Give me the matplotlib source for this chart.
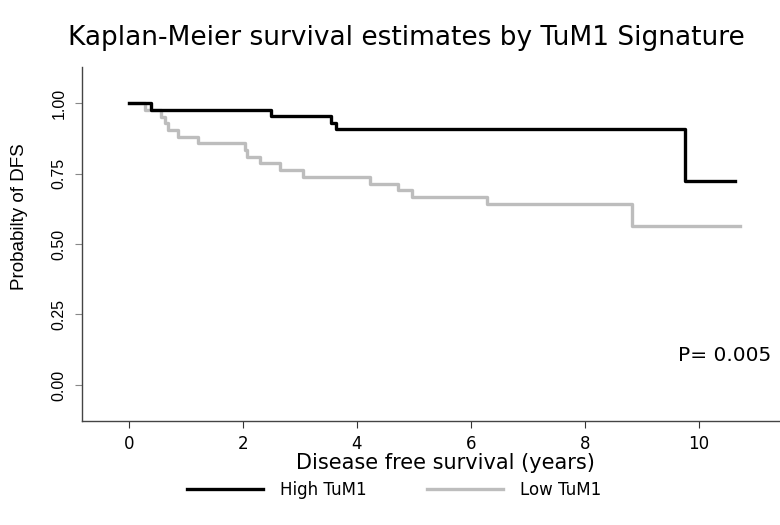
import matplotlib
matplotlib.use('Agg')
import matplotlib.pyplot as plt
from matplotlib.lines import Line2D

plt.rcParams['font.family'] = ['DejaVu Sans']

# Kaplan-Meier step data
high_t = [0, 0.39, 2.49, 3.54, 3.64, 9.75, 10.63]
high_s = [1.0, 0.977, 0.953, 0.930, 0.907, 0.725, 0.725]

low_t = [0, 0.28, 0.57, 0.63, 0.69, 0.86, 1.22, 2.04, 2.08, 2.30, 2.65,
         3.06, 4.23, 4.72, 4.96, 6.29, 8.82, 10.72]
low_s = [1.0, 0.976, 0.952, 0.929, 0.905, 0.881, 0.857, 0.833, 0.810, 0.786,
         0.762, 0.738, 0.714, 0.690, 0.667, 0.643, 0.563, 0.563]

xticks = [0, 2, 4, 6, 8, 10]
yticks = [0.0, 0.25, 0.5, 0.75, 1.0]
p_text = 'P= 0.005'

fig = plt.figure(figsize=(7.8, 5.25), dpi=100)
ax = fig.add_axes([0.1051, 0.198, 0.8949, 0.6744])

ax.step(low_t, low_s, where='post', color='#bdbdbd', lw=2.4, zorder=2)
ax.step(high_t, high_s, where='post', color='black', lw=2.4, zorder=3)

ax.set_xlim(-0.82, 11.42)
ax.set_ylim(-0.128, 1.128)
ax.set_xticks(xticks)
ax.set_xticklabels([str(v) for v in xticks], fontsize=12)
ax.set_yticks(yticks)
ax.set_yticklabels(['%.2f' % v for v in yticks], fontsize=11.5,
                   rotation=90, va='center', family='Liberation Sans')
ax.tick_params(axis='x', length=5, color='#333333', pad=5)
ax.tick_params(axis='y', length=5, color='#888888', pad=6)

for side in ['top', 'right']:
    ax.spines[side].set_visible(False)
for side in ['left', 'bottom']:
    ax.spines[side].set_color('#444444')
    ax.spines[side].set_linewidth(1.0)

ax.set_xlabel('Disease free survival (years)', fontsize=15)
ax.xaxis.set_label_coords(0.521, -0.119)
ax.xaxis.label.set_va('center')
ax.set_ylabel('Probabilty of DFS', fontsize=13.5, family='Liberation Sans')
ax.yaxis.set_label_coords(-0.077, 0.576)
ax.text(0.988, 0.186, p_text, transform=ax.transAxes, ha='right',
        va='center', fontsize=14.5)

fig.text(0.521, 0.927, 'Kaplan-Meier survival estimates by TuM1 Signature',
         ha='center', va='center', fontsize=19)

handles = [Line2D([], [], color='black', lw=2.4),
           Line2D([], [], color='#bdbdbd', lw=2.4)]
fig.legend(handles, ['High TuM1', 'Low TuM1'], loc='center',
           bbox_to_anchor=(0.505, 0.067), ncol=2, frameon=False, fontsize=12,
           handlelength=4.6, columnspacing=3.6, handletextpad=1.0)

fig.savefig('out.png', dpi=100)
